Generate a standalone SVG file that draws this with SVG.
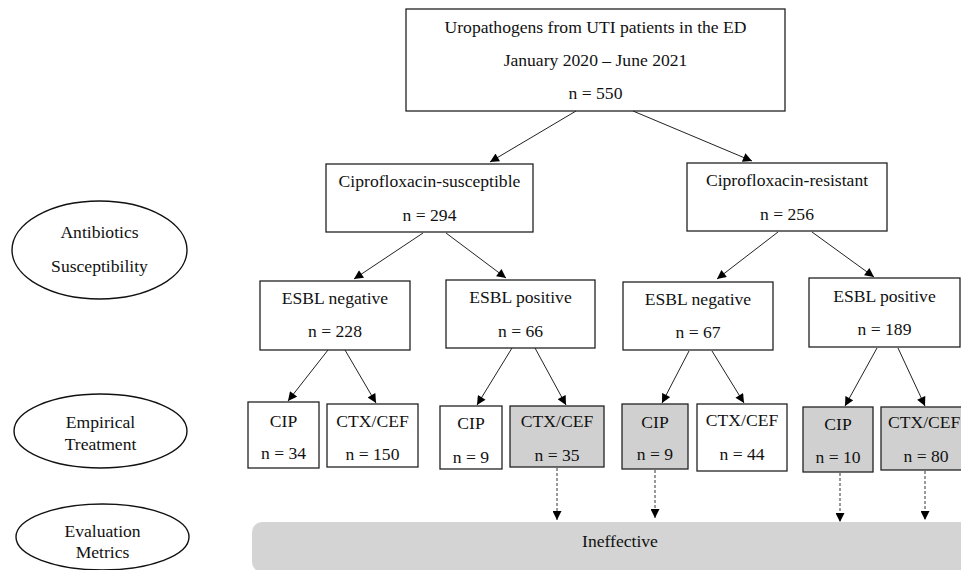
<svg xmlns="http://www.w3.org/2000/svg" width="961" height="570" viewBox="0 0 961 570" font-family="'Liberation Serif', 'DejaVu Serif', serif">
<defs>
<marker id="ah" viewBox="0 0 10 10" refX="10" refY="5" markerWidth="10" markerHeight="9" markerUnits="userSpaceOnUse" orient="auto"><path d="M0,0 L10,5 L0,10 Z" fill="#000"/></marker>
</defs>
<style>
text{font-family:'Liberation Serif','DejaVu Serif',serif;font-size:17.6px;fill:#111;text-anchor:middle}
.box{fill:#fff;stroke:#222;stroke-width:1.3}
.gbox{fill:#d0d0d0;stroke:#222;stroke-width:1.3}
.ov{fill:#fff;stroke:#111;stroke-width:1.4}
.c{stroke:#222;stroke-width:1;fill:none;marker-end:url(#ah)}
.d{stroke:#333;stroke-width:1;fill:none;stroke-dasharray:3,2;marker-end:url(#ah)}
</style>
<rect width="961" height="570" fill="#fff"/>
<g id="bar"><rect x="252" y="522" width="730" height="50" rx="10" fill="#d3d4d3"/><text x="620" y="547">Ineffective</text></g>
<g id="ov1"><ellipse class="ov" cx="99.5" cy="250" rx="87.5" ry="49"/><text x="99.5" y="238">Antibiotics</text><text x="99.5" y="272">Susceptibility</text></g>
<g id="ov2"><ellipse class="ov" cx="100.5" cy="431" rx="86.5" ry="37"/><text x="100.5" y="428">Empirical</text><text x="100.5" y="450">Treatment</text></g>
<g id="ov3"><ellipse class="ov" cx="102.5" cy="537" rx="86.5" ry="33"/><text x="102.5" y="537">Evaluation</text><text x="102.5" y="558">Metrics</text></g>
<g id="top"><rect class="box" x="406" y="9" width="379" height="102"/><text x="595.5" y="33">Uropathogens from UTI patients in the ED</text><text x="595.5" y="66">January 2020 – June 2021</text><text x="595.5" y="99">n = 550</text></g>
<g id="sus"><rect class="box" x="326" y="164" width="207" height="68"/><text x="429.5" y="187">Ciprofloxacin-susceptible</text><text x="429.5" y="221">n = 294</text></g>
<g id="res"><rect class="box" x="687" y="163" width="200" height="68"/><text x="787" y="186">Ciprofloxacin-resistant</text><text x="787" y="220">n = 256</text></g>
<g id="sneg"><rect class="box" x="260" y="281" width="150" height="69"/><text x="335" y="304">ESBL negative</text><text x="335" y="337">n = 228</text></g>
<g id="spos"><rect class="box" x="446" y="280" width="149" height="68"/><text x="520.5" y="303">ESBL positive</text><text x="520.5" y="337">n = 66</text></g>
<g id="rneg"><rect class="box" x="623" y="282" width="150" height="68"/><text x="698" y="305">ESBL negative</text><text x="698" y="338">n = 67</text></g>
<g id="rpos"><rect class="box" x="809" y="278" width="151" height="69"/><text x="884.5" y="302">ESBL positive</text><text x="884.5" y="335">n = 189</text></g>
<g id="t1"><rect class="box" x="248" y="402" width="71" height="66"/><text x="283.5" y="427">CIP</text><text x="283.5" y="459">n = 34</text></g>
<g id="t2"><rect class="box" x="327" y="404" width="91" height="63"/><text x="372.5" y="427">CTX/CEF</text><text x="372.5" y="460">n = 150</text></g>
<g id="t3"><rect class="box" x="440" y="406" width="62" height="63"/><text x="471" y="429">CIP</text><text x="471" y="463">n = 9</text></g>
<g id="t4"><rect class="gbox" x="510" y="406" width="94" height="61"/><text x="557" y="427">CTX/CEF</text><text x="557" y="461">n = 35</text></g>
<g id="t5"><rect class="gbox" x="622" y="404" width="66" height="65"/><text x="655" y="428">CIP</text><text x="655" y="460">n = 9</text></g>
<g id="t6"><rect class="box" x="697" y="404" width="90" height="67"/><text x="742" y="426">CTX/CEF</text><text x="742" y="460">n = 44</text></g>
<g id="t7"><rect class="gbox" x="803" y="407" width="70" height="65"/><text x="838" y="430">CIP</text><text x="838" y="463">n = 10</text></g>
<g id="t8"><rect class="gbox" x="881" y="407" width="90" height="63"/><text x="888" y="428" style="text-anchor:start">CTX/CEF</text><text x="926" y="462">n = 80</text></g>
<g id="connectors">
<line class="c" x1="576" y1="111" x2="490" y2="162"/>
<line class="c" x1="633" y1="111" x2="752" y2="161"/>
<line class="c" x1="423" y1="233" x2="354" y2="279"/>
<line class="c" x1="446" y1="233" x2="506" y2="278"/>
<line class="c" x1="778" y1="232" x2="717" y2="279"/>
<line class="c" x1="812" y1="232" x2="874" y2="277"/>
<line class="c" x1="328" y1="350" x2="288" y2="401"/>
<line class="c" x1="345" y1="350" x2="376" y2="403"/>
<line class="c" x1="512" y1="348" x2="477" y2="405"/>
<line class="c" x1="535" y1="348" x2="566" y2="405"/>
<line class="c" x1="689" y1="351" x2="662" y2="403"/>
<line class="c" x1="712" y1="351" x2="744" y2="403"/>
<line class="c" x1="877" y1="348" x2="845" y2="406"/>
<line class="c" x1="898" y1="348" x2="925" y2="406"/>
<line class="d" x1="557" y1="468" x2="557" y2="520"/>
<line class="d" x1="655" y1="470" x2="655" y2="518"/>
<line class="d" x1="840" y1="473" x2="840" y2="522"/>
<line class="d" x1="925" y1="471" x2="925" y2="520"/>
</g>
</svg>
